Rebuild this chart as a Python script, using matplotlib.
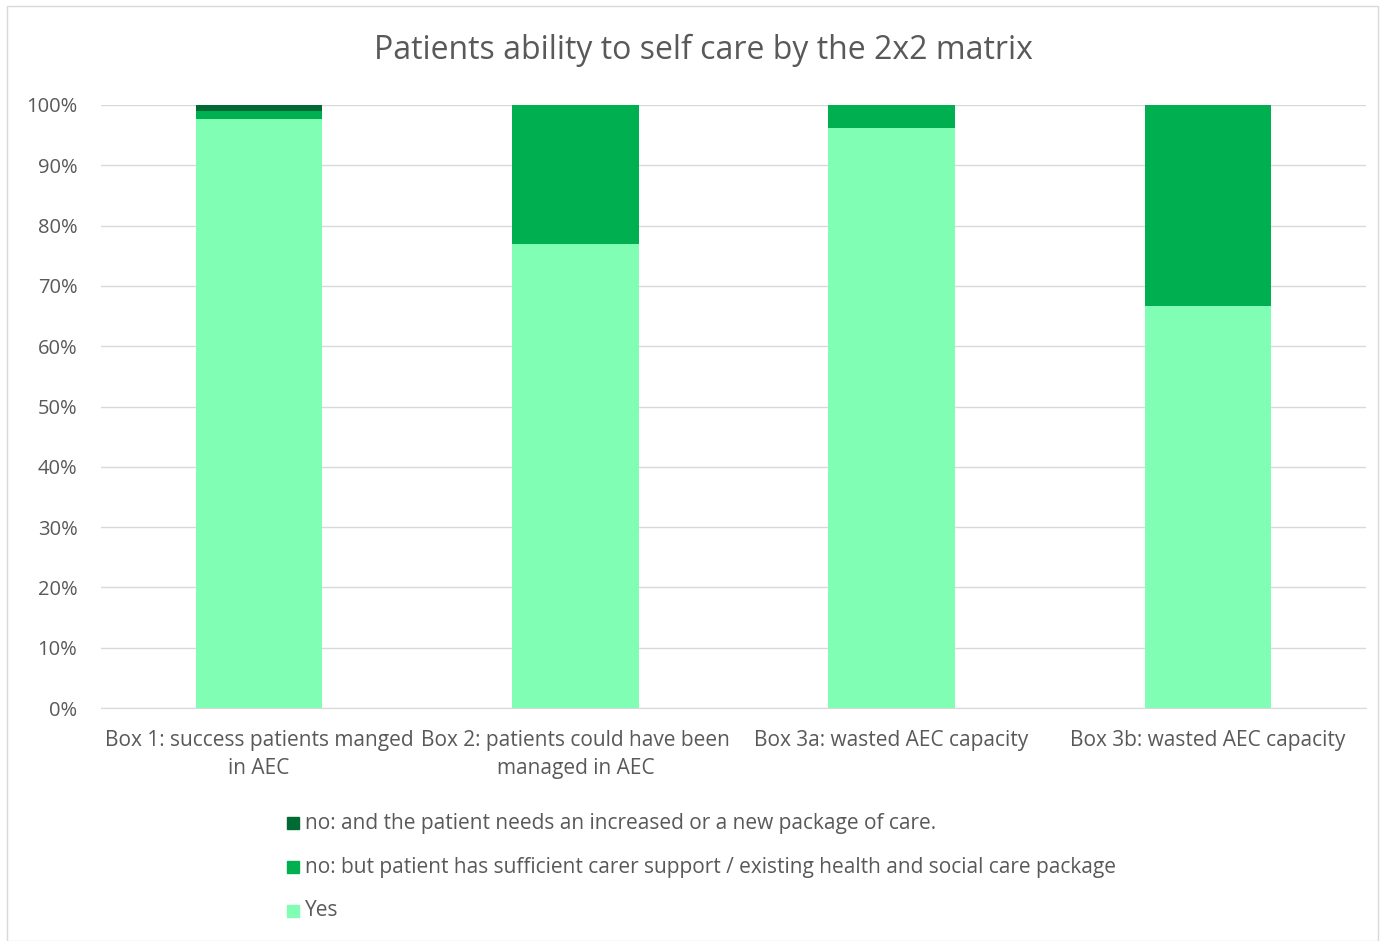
import matplotlib.pyplot as plt
from matplotlib.patches import Rectangle
from matplotlib.ticker import PercentFormatter

plt.rcParams['font.family'] = ['Open Sans', 'DejaVu Sans']

categories = ['Box 1: success patients manged\nin AEC',
              'Box 2: patients could have been\nmanaged in AEC',
              'Box 3a: wasted AEC capacity',
              'Box 3b: wasted AEC capacity']
yes = [97.7, 76.9, 96.2, 66.7]
no_support = [1.3, 23.1, 3.8, 33.3]
no_new_package = [1.0, 0.0, 0.0, 0.0]

series_names = ['no: and the patient needs an increased or a new package of care.',
                'no: but patient has sufficient carer support / existing health and social care package',
                'Yes']
colors = ['#006A35', '#00B050', '#80FFB4']
text_color = '#595959'

fig = plt.figure(figsize=(13.81, 9.41), dpi=100)
ax = fig.add_axes([101 / 1381, 1 - 708 / 941, 1265 / 1381, 603 / 941])

x = range(len(categories))
ax.bar(x, yes, width=0.4, color=colors[2], zorder=3)
ax.bar(x, no_support, width=0.4, bottom=yes, color=colors[1], zorder=3)
bottom2 = [a + b for a, b in zip(yes, no_support)]
ax.bar(x, no_new_package, width=0.4, bottom=bottom2, color=colors[0], zorder=3)

ax.set_xlim(-0.5, len(categories) - 0.5)
ax.set_ylim(0, 100)
ax.set_yticks(range(0, 101, 10))
ax.yaxis.set_major_formatter(PercentFormatter(decimals=0))
ax.set_xticks(list(x))
ax.set_xticklabels(categories, fontsize=15, color=text_color, linespacing=1.45)
ax.tick_params(axis='y', labelsize=14.5, labelcolor=text_color, length=0, pad=17)
ax.tick_params(axis='x', length=0, pad=16)
ax.grid(axis='y', color='#D9D9D9', linewidth=1, zorder=0)
for side in ['top', 'right', 'left']:
    ax.spines[side].set_visible(False)
ax.spines['bottom'].set_color('#D9D9D9')

fig.text(703 / 1381, 1 - 50 / 941, 'Patients ability to self care by the 2x2 matrix',
         ha='center', va='center', fontsize=23, color=text_color)

# legend entries stacked below the plot
legend_y = [823, 867, 911]
for name, col, ly in zip(series_names, colors, legend_y):
    fig.patches.append(Rectangle((287 / 1381, 1 - (ly + 6) / 941), 12 / 1381, 12 / 941,
                                 transform=fig.transFigure, color=col))
    fig.text(305 / 1381, 1 - ly / 941, name, ha='left', va='center',
             fontsize=15, color=text_color)

# thin outer border of the chart area
fig.patches.append(Rectangle((7 / 1381, 0), 1371 / 1381, 1 - 6 / 941,
                             transform=fig.transFigure, fill=False,
                             edgecolor='#D9D9D9', linewidth=1))

fig.savefig('out.png', dpi=100)
